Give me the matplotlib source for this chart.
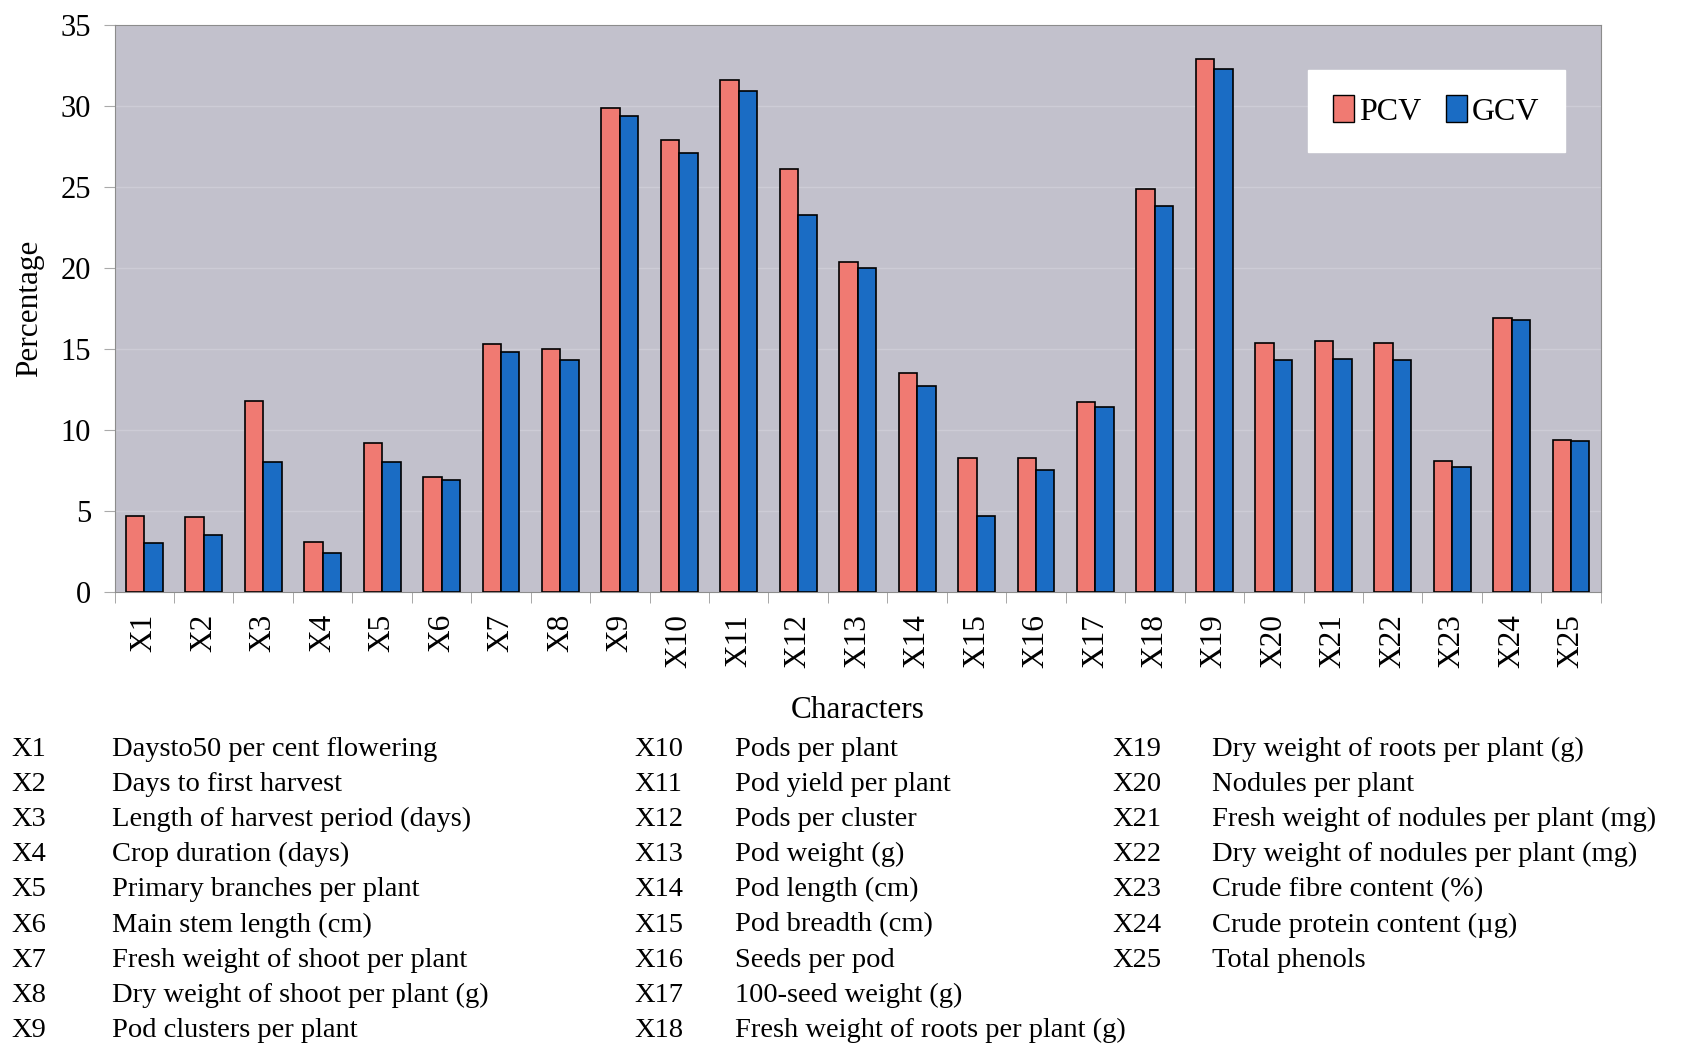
import numpy as np
import matplotlib
matplotlib.use('Agg')
import matplotlib.pyplot as plt
from matplotlib.patches import Patch

codes = ['X%d' % i for i in range(1, 26)]
pcv = [4.7, 4.6, 11.8, 3.1, 9.2, 7.1, 15.3, 15.0, 29.9, 27.9, 31.6, 26.1, 20.4,
       13.5, 8.3, 8.3, 11.7, 24.9, 32.9, 15.4, 15.5, 15.4, 8.1, 16.9, 9.4]
gcv = [3.0, 3.5, 8.0, 2.4, 8.0, 6.9, 14.8, 14.3, 29.4, 27.1, 30.9, 23.3, 20.0,
       12.7, 4.7, 7.5, 11.4, 23.8, 32.3, 14.3, 14.4, 14.3, 7.7, 16.8, 9.3]
descs = ['Daysto50 per cent flowering', 'Days to first harvest',
         'Length of harvest period (days)', 'Crop duration (days)',
         'Primary branches per plant', 'Main stem length (cm)',
         'Fresh weight of shoot per plant', 'Dry weight of shoot per plant (g)',
         'Pod clusters per plant', 'Pods per plant', 'Pod yield per plant',
         'Pods per cluster', 'Pod weight (g)', 'Pod length (cm)',
         'Pod breadth (cm)', 'Seeds per pod', '100-seed weight (g)',
         'Fresh weight of roots per plant (g)', 'Dry weight of roots per plant (g)',
         'Nodules per plant', 'Fresh weight of nodules per plant (mg)',
         'Dry weight of nodules per plant (mg)', 'Crude fibre content (%)',
         'Crude protein content (\u00b5g)', 'Total phenols']

plt.rcParams['font.family'] = ['Liberation Serif', 'DejaVu Serif']

fig = plt.figure(figsize=(16.85, 10.44), dpi=100)
ax = fig.add_axes([0.068, 0.433, 0.882, 0.543])
ax.set_facecolor('#c2c1cc')

x = np.arange(len(codes))
w = 0.31
ax.bar(x - w/2, pcv, w, color='#f07a72', edgecolor='black', linewidth=1.2, label='PCV', zorder=3)
ax.bar(x + w/2, gcv, w, color='#1a6cc4', edgecolor='black', linewidth=1.2, label='GCV', zorder=3)

ax.set_xlim(-0.5, len(codes) - 0.5)
ax.set_ylim(0, 35)
ax.set_yticks(range(0, 36, 5))
ax.yaxis.grid(True, color='#cdccd6', linewidth=1, zorder=0)
ax.set_xticks(x)
ax.set_xticklabels(codes, rotation=90, fontsize=22.5)
ax.set_xticks(np.arange(-0.5, len(codes), 1), minor=True)
ax.tick_params(axis='x', which='major', length=0, pad=16)
ax.tick_params(axis='x', which='minor', length=8, color='#999999')
ax.tick_params(axis='y', labelsize=22, length=8, pad=9, color='#aaaaaa')
for s in ax.spines.values():
    s.set_color('#8c8c8c')

ax.set_ylabel('Percentage', fontsize=22.5, labelpad=12)
ax.set_xlabel('Characters', fontsize=22.5, labelpad=20)

leg = ax.legend(handles=[Patch(facecolor='#f07a72', edgecolor='black', label='PCV'),
                         Patch(facecolor='#1a6cc4', edgecolor='black', label='GCV')],
                loc='upper right', bbox_to_anchor=(0.976, 0.921), ncol=2, fontsize=23,
                frameon=True, fancybox=False, framealpha=1, edgecolor='white',
                handlelength=0.65, handleheight=0.9, handletextpad=0.15,
                columnspacing=0.8, borderpad=0.8, borderaxespad=0)

# key of characters
col_code = [11, 634, 1112]
col_desc = [112, 735, 1212]
rows = [9, 9, 7]
y0 = 749
dy = 35.2
k = 0
for c in range(3):
    for r in range(rows[c]):
        yy = 1 - (y0 + r * dy) / 1044
        fig.text(col_code[c] / 1685, yy, codes[k], fontsize=20.5, va='center', ha='left')
        fig.text(col_desc[c] / 1685, yy, descs[k], fontsize=20.5, va='center', ha='left')
        k += 1

fig.savefig('out.png', dpi=100)
